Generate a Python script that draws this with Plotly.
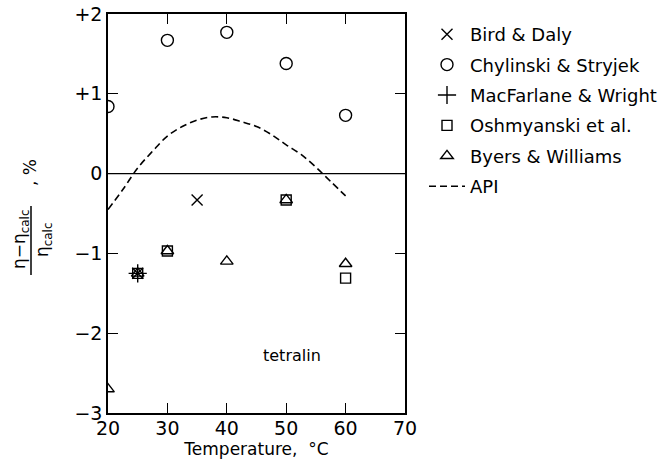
import plotly.graph_objects as go

# --- data ---
bird_x = [25, 35]
bird_y = [-1.25, -0.33]
chyl_x = [20, 30, 40, 50, 60]
chyl_y = [0.84, 1.67, 1.77, 1.38, 0.73]
macf_x = [25]
macf_y = [-1.25]
oshm_x = [25, 30, 50, 60]
oshm_y = [-1.25, -0.97, -0.33, -1.31]
byers_x = [20, 25, 30, 40, 50, 60]
byers_y = [-2.70, -1.25, -0.97, -1.10, -0.33, -1.13]
api_x = [20, 22.5, 25, 27.5, 30, 32.5, 35, 37.5, 40, 42.5, 45, 47.5, 50, 52.5, 55, 57.5, 60]
api_y = [-0.45, -0.2, 0.07, 0.28, 0.47, 0.59, 0.67, 0.71, 0.70, 0.65, 0.59, 0.49, 0.36, 0.24, 0.08, -0.1, -0.28]

x_ticks = [20, 30, 40, 50, 60, 70]
y_ticks = [-3, -2, -1, 0, 1, 2]
y_ticktext = ["\u22123", "\u22122", "\u22121", "0", "+1", "+2"]

FONT = "DejaVu Sans"
BLACK = "black"

fig = go.Figure()

mk_line = dict(color=BLACK, width=1.4)

fig.add_trace(go.Scatter(x=bird_x, y=bird_y, mode="markers", name="Bird &amp; Daly",
                         legendgroup="a",
                         marker=dict(symbol="x-thin", size=11, color=BLACK, line=mk_line)))
fig.add_trace(go.Scatter(x=chyl_x, y=chyl_y, mode="markers", name="Chylinski &amp; Stryjek",
                         legendgroup="b",
                         marker=dict(symbol="circle-open", size=12, color=BLACK, line=mk_line)))
fig.add_trace(go.Scatter(x=macf_x, y=macf_y, mode="markers", name="MacFarlane &amp; Wright",
                         legendgroup="c",
                         marker=dict(symbol="cross-thin", size=13, color=BLACK, line=mk_line)))
fig.add_trace(go.Scatter(x=oshm_x, y=oshm_y, mode="markers", name="Oshmyanski et al.",
                         legendgroup="d",
                         marker=dict(symbol="square-open", size=10, color=BLACK, line=mk_line)))
fig.add_trace(go.Scatter(x=byers_x, y=byers_y, mode="markers", name="Byers &amp; Williams",
                         legendgroup="e",
                         marker=dict(symbol="triangle-up-open", size=11, color=BLACK, line=mk_line)))
fig.add_trace(go.Scatter(x=api_x, y=api_y, mode="lines", name="API", legendgroup="f",
                         line=dict(color=BLACK, width=1.6, dash="7px,4px", shape="spline")))

# zero line
fig.add_hline(y=0, line=dict(color=BLACK, width=1.2))

fig.add_annotation(x=51, y=-2.28, xref="x", yref="y", text="tetralin", showarrow=False,
                   font=dict(family=FONT, size=16, color=BLACK))

# y-axis label as a fraction (rotated)
fig.add_annotation(x=20, y=240, xref="paper", yref="paper", text="\u03b7\u2212\u03b7<sub>calc</sub>",
                   showarrow=False, textangle=-90, font=dict(family=FONT, size=17, color=BLACK))
fig.add_annotation(x=43, y=240, xref="paper", yref="paper", text="\u03b7<sub>calc</sub>",
                   showarrow=False, textangle=-90, font=dict(family=FONT, size=17, color=BLACK))
fig.add_annotation(x=30, y=172, xref="paper", yref="paper", text=", %",
                   showarrow=False, textangle=-90, font=dict(family=FONT, size=17, color=BLACK))

fig.update_layout(
    width=667, height=468,
    margin=dict(l=108, r=262, t=14, b=55, autoexpand=False),
    paper_bgcolor="white", plot_bgcolor="white",
    font=dict(family=FONT, size=17, color=BLACK),
    showlegend=True,
    legend=dict(x=(424 - 108) / 297, y=0.995, xanchor="left", yanchor="top",
                font=dict(family=FONT, size=18, color=BLACK), itemwidth=36,
                tracegroupgap=4, bgcolor="rgba(0,0,0,0)", borderwidth=0),
    xaxis=dict(range=[20, 70], tickvals=x_ticks, ticks="inside", ticklen=10, tickwidth=1.2,
               tickcolor=BLACK, showline=True, linecolor=BLACK, linewidth=1.5, mirror="ticks",
               showgrid=False, zeroline=False, ticklabelstandoff=-3,
               title=dict(text="Temperature,  \u00b0C", font=dict(family=FONT, size=17), standoff=3),
               tickfont=dict(family=FONT, size=19)),
    yaxis=dict(range=[-3, 2], tickvals=y_ticks, ticktext=y_ticktext, ticks="inside", ticklen=10,
               tickwidth=1.2, tickcolor=BLACK, showline=True, linecolor=BLACK, linewidth=1.5,
               mirror="ticks", showgrid=False, zeroline=False,
               tickfont=dict(family=FONT, size=19)),
)

# convert pixel positions for label annotations to paper coords
W_plot = 667 - 108 - 262
H_plot = 468 - 14 - 55
for ann in fig.layout.annotations:
    if ann.xref == "paper":
        ann.x = (ann.x - 108) / W_plot
        ann.y = (468 - 55 - ann.y) / H_plot
        ann.xanchor = "center"
        ann.yanchor = "middle"

# fraction bar
fig.add_shape(type="line", xref="paper", yref="paper",
              x0=(31 - 108) / W_plot, x1=(31 - 108) / W_plot,
              y0=(468 - 55 - 206) / H_plot, y1=(468 - 55 - 275) / H_plot,
              line=dict(color=BLACK, width=1.5))

fig.write_html("out.html")
